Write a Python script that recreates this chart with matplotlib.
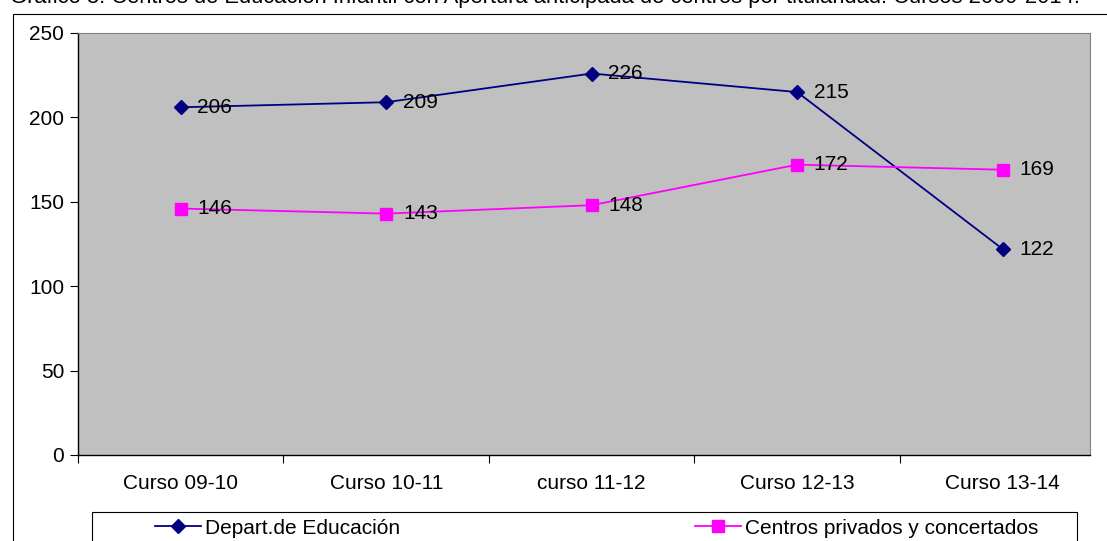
import matplotlib.pyplot as plt
from matplotlib.patches import Rectangle
from matplotlib.lines import Line2D

plt.rcParams['font.family'] = ['Liberation Sans', 'DejaVu Sans']

cursos = ['Curso 09-10', 'Curso 10-11', 'curso 11-12', 'Curso 12-13', 'Curso 13-14']
educacion = [206, 209, 226, 215, 122]
privados = [146, 143, 148, 172, 169]
series_names = ['Depart.de Educación', 'Centros privados y concertados']
titulo = ('Gráfico 3. Centros de Educación Infantil con Apertura anticipada de centros '
          'por titularidad. Cursos 2009-2014.')

W, H = 1107, 541
FS = 15
fig = plt.figure(figsize=(W / 100, H / 100), dpi=100)
fig.patch.set_facecolor('white')

# outer frame
fig.patches.append(Rectangle((13 / W, -0.1), 1.2, 1 - 14 / H + 0.1,
                             transform=fig.transFigure, fill=False,
                             edgecolor='black', lw=0.8))
fig.text(545 / W, 1 - 3 / H, titulo, ha='center', va='baseline', fontsize=15.8)

ax = fig.add_axes([78 / W, 1 - 455 / H, (1090 - 78) / W, (455 - 33) / H])
ax.set_facecolor('#C0C0C0')
x = list(range(len(cursos)))

ax.plot(x, educacion, color='#000080', marker='D', markersize=7, lw=1.3)
ax.plot(x, privados, color='#FF00FF', marker='s', markersize=8, lw=1.3)

for xi, v in zip(x, educacion):
    ax.annotate(str(v), (xi, v), xytext=(12, 0), textcoords='offset points',
                va='center', ha='left', fontsize=FS)
for xi, v in zip(x, privados):
    ax.annotate(str(v), (xi, v), xytext=(12, 0), textcoords='offset points',
                va='center', ha='left', fontsize=FS)

ax.set_xlim(-0.5, 4.425)
ax.set_ylim(0, 250)
ax.set_yticks(range(0, 251, 50))
ax.set_xticks(x)
ax.set_xticklabels(cursos)
ax.set_xticks([i - 0.5 for i in range(5)], minor=True)
ax.tick_params(axis='x', which='major', length=0, pad=14, labelsize=FS)
ax.tick_params(axis='x', which='minor', length=6, width=0.8)
ax.tick_params(axis='y', length=6, width=0.8, labelsize=FS, pad=4)

for side in ['top', 'right']:
    ax.spines[side].set_color('#808080')
for side in ['left', 'bottom']:
    ax.spines[side].set_color('black')
    ax.spines[side].set_linewidth(1.0)

# legend frame
fig.patches.append(Rectangle((92 / W, -0.1), (1077 - 92) / W, 1 - 512 / H + 0.1,
                             transform=fig.transFigure, facecolor='white',
                             edgecolor='black', lw=0.8))
handles = [Line2D([], [], color='#000080', marker='D', markersize=7, lw=1.3),
           Line2D([], [], color='#FF00FF', marker='s', markersize=8, lw=1.3)]
for h, name, lx in zip(handles, series_names, [155, 695]):
    leg = fig.legend([h], [name], loc='center left',
                     bbox_to_anchor=(lx / W, 1 - 528 / H), fontsize=FS,
                     frameon=False, borderaxespad=0, borderpad=0,
                     handlelength=2.2, handletextpad=0.2)

fig.savefig('out.png', dpi=100)
